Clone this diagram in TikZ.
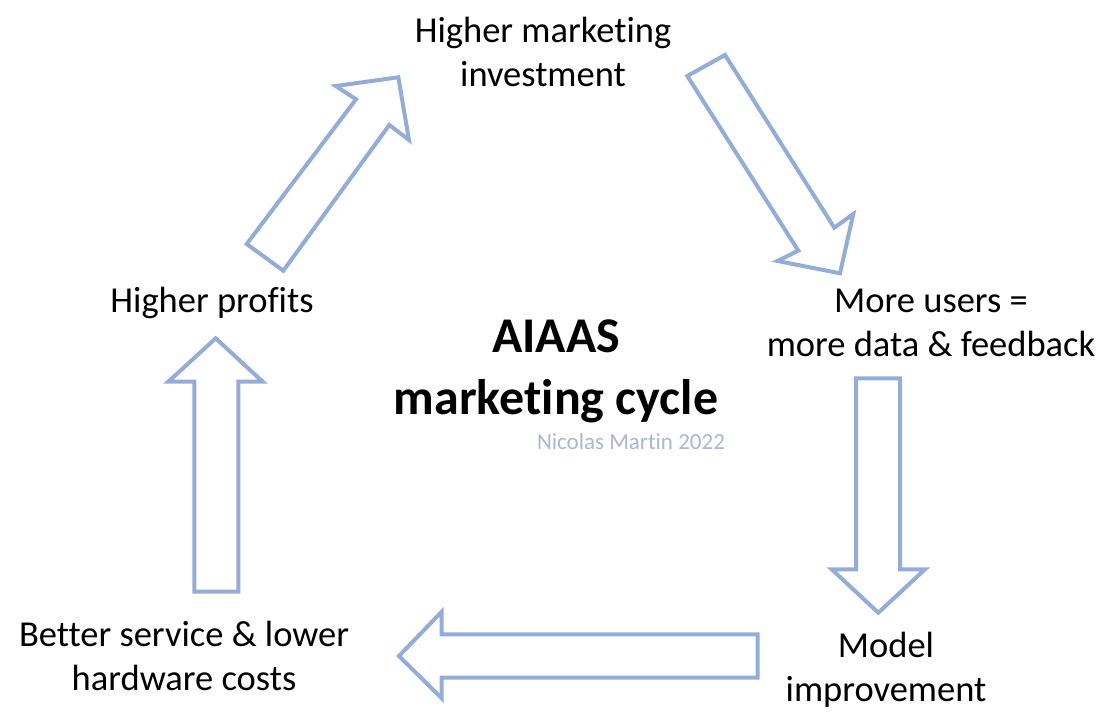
\documentclass[tikz,border=0pt]{standalone}
\usepackage{fontspec}
\setmainfont{Carlito}[Ligatures={NoCommon}]
\definecolor{arrowblue}{RGB}{148,172,216}
\definecolor{creditgray}{RGB}{172,182,204}
\begin{document}
\begin{tikzpicture}[x=1pt,y=-1pt,
  blockarrow/.style={draw=arrowblue, line width=4pt, line join=miter, fill=white},
  label/.style={font=\fontsize{36.5}{44}\selectfont, align=center, anchor=base, inner sep=0pt},
  titletext/.style={font=\fontsize{50}{62}\selectfont\bfseries, align=center, anchor=base, inner sep=0pt},
  credit/.style={font=\fontsize{23}{28}\selectfont, text=creditgray, anchor=base, inner sep=0pt}]
\useasboundingbox (0,0) rectangle (1116,712);

% labels (anchor = baseline of last line)
\node[label] (invest) at (543,86.5) {Higher marketing\\investment};
\node[label] (users) at (931,356) {More users =\\more data \& feedback};
\node[label] (model) at (886,701.5) {Model\\improvement};
\node[label] (service) at (184,690.5) {Better service \& lower\\hardware costs};
\node[label] (profits) at (212,312.5) {Higher profits};
\node[titletext] (title) at (556,414) {AIAAS\\marketing cycle};
\node[credit] (author) at (631,449.3) {Nicolas Martin 2022};

% arrow: profits -> investment
\draw[blockarrow] (246.7,244) -- (356,99.3) -- (335.7,86) -- (398.3,77.3)
  -- (409,140) -- (389.3,125) -- (283.3,270.7) -- cycle;
% arrow: investment -> users
\draw[blockarrow] (687.3,76) -- (725,55) -- (834.3,227.7) -- (853.3,214)
  -- (840,273.3) -- (777.7,261) -- (798.3,250.7) -- cycle;
% arrow: users -> model
\draw[blockarrow] (856,378.3) -- (900,378.3) -- (900,569.3) -- (925,569.3)
  -- (878.3,612.7) -- (831.7,569.3) -- (856,569.3) -- cycle;
% arrow: model -> service
\draw[blockarrow] (757.7,634.3) -- (441.7,634.3) -- (441.7,611.7) -- (399,656)
  -- (441.7,698.3) -- (441.7,677.7) -- (757.7,677.7) -- cycle;
% arrow: service -> profits
\draw[blockarrow] (194.3,591.7) -- (194.3,381.7) -- (168.3,381.7) -- (215.7,338.3)
  -- (262.7,381.7) -- (238.3,381.7) -- (238.3,591.7) -- cycle;
\end{tikzpicture}
\end{document}
